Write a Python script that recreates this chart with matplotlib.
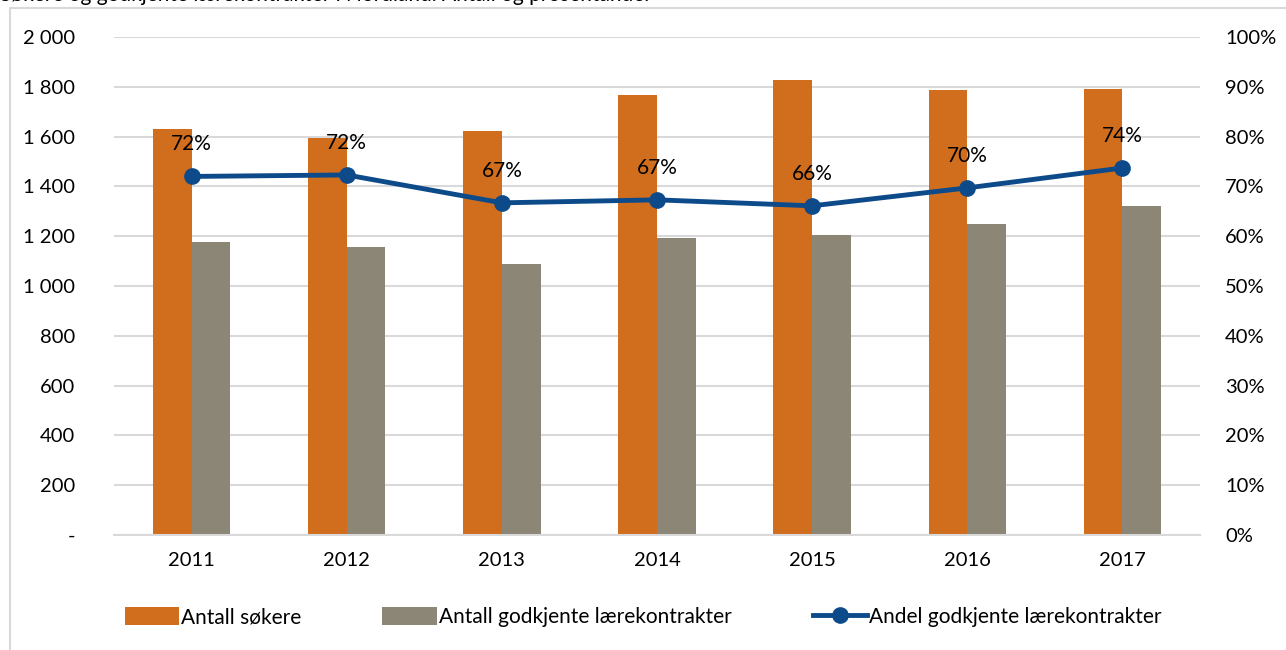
import numpy as np
import matplotlib
matplotlib.use("Agg")
import matplotlib.pyplot as plt
from matplotlib.patches import Rectangle
from matplotlib.ticker import FuncFormatter

plt.rcParams['font.family'] = ['Lato', 'DejaVu Sans']

years = ['2011', '2012', '2013', '2014', '2015', '2016', '2017']
sokere = [1630, 1594, 1622, 1767, 1827, 1787, 1791]
godkjente = [1177, 1157, 1088, 1193, 1205, 1249, 1321]
andel = [0.72, 0.723, 0.667, 0.673, 0.661, 0.697, 0.737]
andel_labels = ['72%', '72%', '67%', '67%', '66%', '70%', '74%']

orange = '#D06E1E'
grey = '#8C8677'
blue = '#0D4A8A'

fig = plt.figure(figsize=(12.86, 6.5), dpi=100)
W, H = 1286, 650
ax = fig.add_axes([114 / W, 1 - 535 / H, (1200 - 114) / W, (535 - 37) / H])
ax2 = ax.twinx()

x = np.arange(len(years))
w = 0.25
ax.bar(x - w / 2, sokere, w, color=orange, label='Antall søkere', zorder=2)
ax.bar(x + w / 2, godkjente, w, color=grey, label='Antall godkjente lærekontrakter', zorder=2)
ax.set_ylim(0, 2000)
ax.set_xlim(-0.5, len(years) - 0.5)
ax.set_yticks(range(0, 2001, 200))
ax.yaxis.set_major_formatter(FuncFormatter(
    lambda v, p: '-' if v == 0 else f'{int(v):,}'.replace(',', ' ')))
ax.set_xticks(x)
ax.set_xticklabels(years)
ax.grid(axis='y', color='#D9D9D9', linewidth=1.5, zorder=0)
ax.set_axisbelow(True)
ax.tick_params(length=0, labelsize=14.5, pad=28)
ax.tick_params(axis='x', pad=12)
for s in ax.spines.values():
    s.set_visible(False)
ax.spines['bottom'].set_visible(True)
ax.spines['bottom'].set_color('#D9D9D9')
ax.spines['bottom'].set_linewidth(1.5)

ax2.plot(x, andel, color=blue, linewidth=3.5, marker='o', markersize=11,
         label='Andel godkjente lærekontrakter', zorder=3)
for xi, yi, t in zip(x, andel, andel_labels):
    ax2.annotate(t, (xi, yi), xytext=(0, 16), textcoords='offset points',
                 ha='center', va='bottom', fontsize=15)
ax2.set_ylim(0, 1)
ax2.set_yticks(np.arange(0, 1.01, 0.1))
ax2.yaxis.set_major_formatter(FuncFormatter(lambda v, p: f'{v * 100:.0f}%'))
ax2.tick_params(length=0, labelsize=14.5, pad=18)
for s in ax2.spines.values():
    s.set_visible(False)

h1, l1 = ax.get_legend_handles_labels()
h2, l2 = ax2.get_legend_handles_labels()
fig.legend(h1 + h2, l1 + l2, loc='center', bbox_to_anchor=(0.5, 1 - 617 / H),
           ncol=3, frameon=False, fontsize=15, handlelength=2.6, handleheight=1.0,
           handletextpad=0.1, columnspacing=3.9)

fig.patches.append(Rectangle((10 / W, -0.1), 1.1, 1.1 - 8 / H, transform=fig.transFigure,
                             fill=False, edgecolor='#D9D9D9', linewidth=1.5))
fig.text(0.0, 1 - 1 / H, 'Søkere og godkjente lærekontrakter i Nordland. Antall og prosentandel',
         ha='left', va='baseline', fontsize=15)

fig.savefig('out.png', dpi=100)
